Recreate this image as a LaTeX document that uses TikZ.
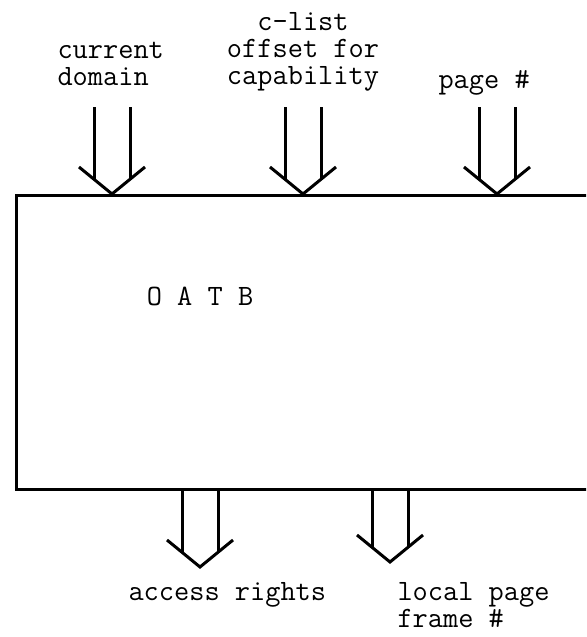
\documentclass[tikz,border=0pt]{standalone}
\usepackage{tikz}

\tikzset{
  lbl/.style={inner sep=0pt, font=\ttfamily\fontsize{21}{19.2}\selectfont},
  % double-shafted arrow, tip at the origin, pointing down
  pics/bigarrow/.style={code={
    \draw (-18,-#1) -- (-18,-15) (18,-#1) -- (18,-15);
    \draw (-33,-27) -- (0,0) -- (33,-27);
  }}
}

\begin{document}
\begin{tikzpicture}[x=0.25mm, y=-0.25mm, line width=0.75mm]
  \useasboundingbox (0,0) rectangle (586,637);
  \clip (0,0) rectangle (586,637);

  % the buffer runs on past the right margin
  \node[draw, inner sep=0pt, minimum width=150mm, minimum height=73.5mm, anchor=north west] (oatb) at (15,194) {};
  \node[lbl] (name) at (200,296) {O A T B};

  % inputs
  \node[lbl, align=left, anchor=north west] (domain) at (56,41) {current\\domain};
  \node[lbl, align=center, anchor=north] (clist) at (303,11) {c-list\\offset for\\capability};
  \node[lbl, anchor=base west] (page) at (437,88) {page \#};

  \coordinate (in1) at (112,194);
  \coordinate (in2) at (303,194);
  \coordinate (in3) at (497,194);
  \pic at (in1) {bigarrow=87};
  \pic at (in2) {bigarrow=87};
  \pic at (in3) {bigarrow=87};

  % outputs
  \coordinate (out1) at (200,567);
  \coordinate (out2) at (390,562);
  \pic at (out1) {bigarrow=79};
  \pic at (out2) {bigarrow=74};

  \node[lbl, anchor=base west] (rights) at (127,600) {access rights};
  \node[lbl, align=left, anchor=north west] (frame) at (396,581) {local page\\frame \#};
\end{tikzpicture}
\end{document}
